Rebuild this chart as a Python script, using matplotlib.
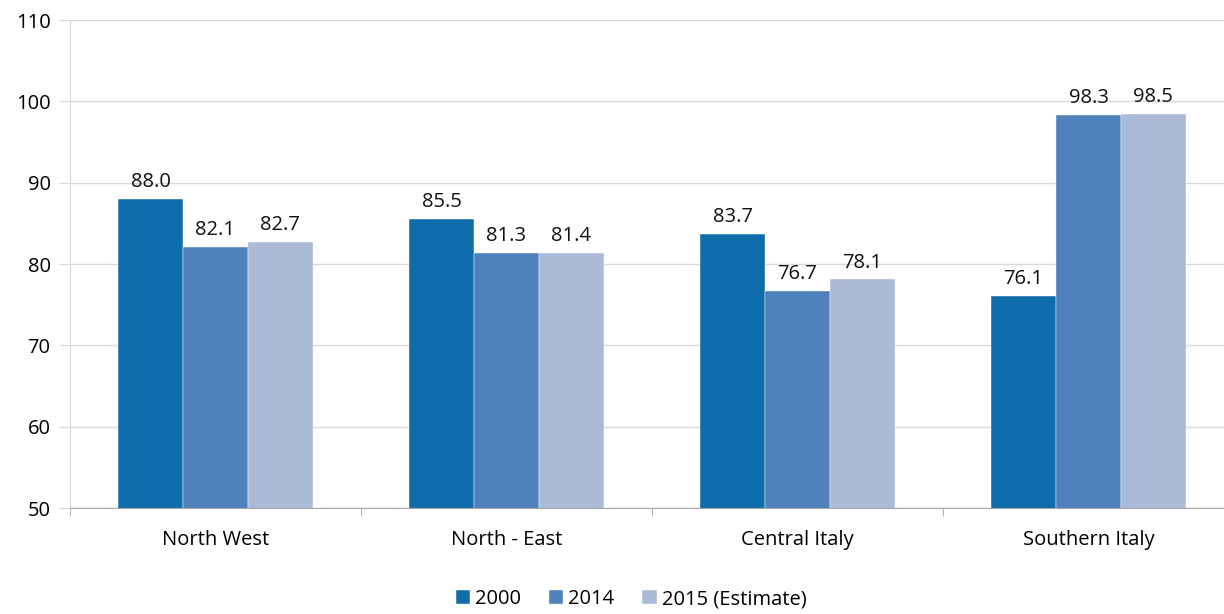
import matplotlib
matplotlib.use("Agg")
import matplotlib.pyplot as plt
import numpy as np

regions = ["North West", "North - East", "Central Italy", "Southern Italy"]
series_names = ["2000", "2014", "2015 (Estimate)"]
values_2000 = [88.0, 85.5, 83.7, 76.1]
values_2014 = [82.1, 81.3, 76.7, 98.3]
values_2015 = [82.7, 81.4, 78.1, 98.5]
colors = ["#106DAC", "#4F81BD", "#AABAD7"]

plt.rcParams["font.family"] = ["Open Sans", "DejaVu Sans"]

fig = plt.figure(figsize=(12.24, 6.14), dpi=100)
# axes spans past the right edge like the source export
ax = fig.add_axes([70 / 1224, (614 - 508) / 614, (1234 - 70) / 1224, (508 - 20) / 614])

x = np.arange(len(regions))
width = 0.223
for i, (name, vals) in enumerate(zip(series_names, [values_2000, values_2014, values_2015])):
    pos = x + (i - 1) * width
    bars = ax.bar(pos, vals, width, color=colors[i], label=name, zorder=3,
                  edgecolor="white", linewidth=0.3)
    for b, v in zip(bars, vals):
        ax.annotate(f"{v:.1f}", (b.get_x() + b.get_width() / 2, v),
                    xytext=(0, 5), textcoords="offset points",
                    ha="center", va="bottom", fontsize=14.5, color="#111111")

ax.set_ylim(50, 110)
ax.set_yticks(range(50, 111, 10))
ax.set_xlim(-0.5, len(regions) - 0.5)
ax.set_xticks(x)
ax.set_xticklabels(regions)
ax.set_xticks(np.arange(-0.5, len(regions)), minor=True)
ax.tick_params(axis="x", which="major", length=0, pad=16, labelsize=14.5)
ax.tick_params(axis="x", which="minor", length=6, color="#A6A6A6", direction="out")
ax.tick_params(axis="y", length=8, color="#D9D9D9", labelsize=14.5, pad=6)

ax.grid(axis="y", color="#D9D9D9", linewidth=1, zorder=0)
for s in ["top", "right"]:
    ax.spines[s].set_visible(False)
ax.spines["left"].set_color("#D9D9D9")
ax.spines["bottom"].set_color("#A6A6A6")
ax.spines["bottom"].set_zorder(4)

handles, labels = ax.get_legend_handles_labels()
fig.legend(handles, labels, loc="lower center", bbox_to_anchor=(631 / 1224, -0.022),
           ncol=3, frameon=False, fontsize=14.5, handlelength=0.7, handleheight=0.7,
           handletextpad=0.25, columnspacing=1.4)

fig.savefig("out.png", dpi=100)
